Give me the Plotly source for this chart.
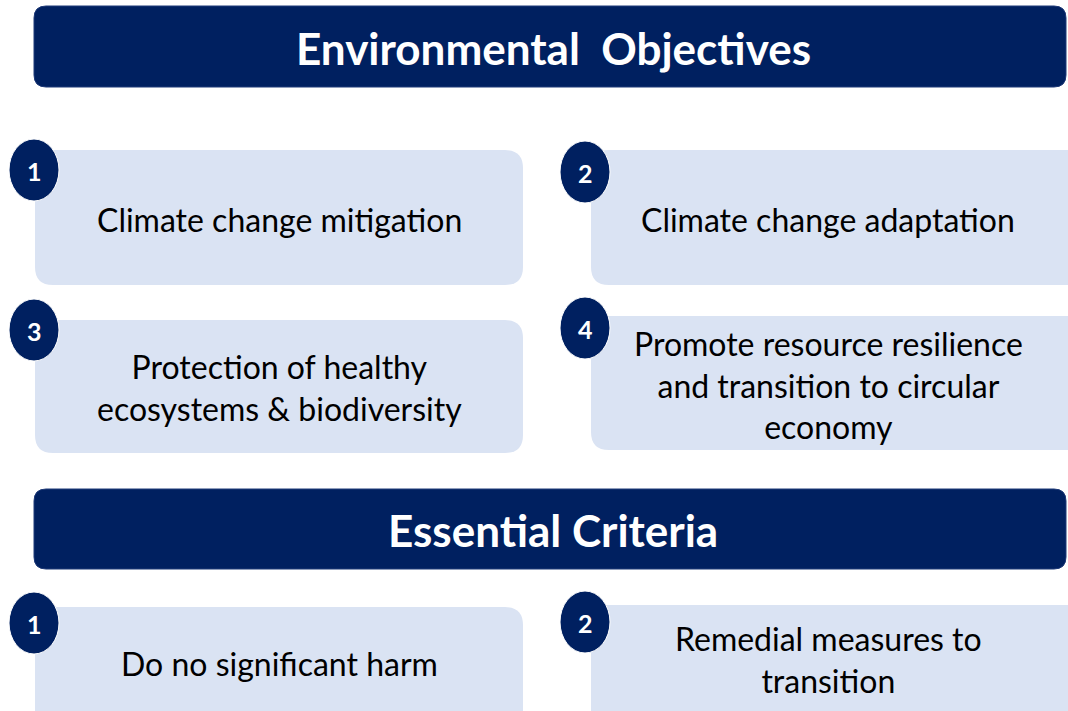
import plotly.graph_objects as go

headers = ["Environmental  Objectives", "Essential Criteria"]
objectives = [
    "Climate change mitigation",
    "Climate change adaptation",
    "Protection of healthy<br>ecosystems & biodiversity",
    "Promote resource resilience<br>and transition to circular<br>economy",
]
objective_nums = ["1", "2", "3", "4"]
criteria = ["Do no significant harm", "Remedial measures to<br>transition"]
criteria_nums = ["1", "2"]

NAVY = "#002060"
LIGHT = "#DAE3F3"
FONT = "Lato"


def rounded_rect(x0, y0, x1, y1, r):
    # y axis is reversed, so y0 is top
    return (f"M {x0+r},{y0} L {x1-r},{y0} Q {x1},{y0} {x1},{y0+r} "
            f"L {x1},{y1-r} Q {x1},{y1} {x1-r},{y1} L {x0+r},{y1} "
            f"Q {x0},{y1} {x0},{y1-r} L {x0},{y0+r} Q {x0},{y0} {x0+r},{y0} Z")


fig = go.Figure()
shapes = []
annotations = []

# header bars
header_boxes = [(34, 6, 1066, 87), (34, 489, 1066, 569)]
for text, (x0, y0, x1, y1) in zip(headers, header_boxes):
    shapes.append(dict(type="path", path=rounded_rect(x0, y0, x1, y1, 12),
                       fillcolor=NAVY, line=dict(color="#1f3a78", width=1), layer="below"))
    annotations.append(dict(x=553, y=(y0 + y1) / 2 + 1, text=f"<b>{text}</b>", showarrow=False,
                            font=dict(family=FONT, size=44, color="white")))

# item boxes: (box x0, y0, x1, y1, circle cx, cy)
obj_boxes = [
    (35, 150, 523, 285, 34, 170),
    (591, 150, 1085, 285, 585, 172),
    (35, 320, 523, 453, 34, 330),
    (591, 316, 1085, 450, 585, 328),
]
crit_boxes = [
    (35, 607, 523, 740, 34, 623),
    (591, 605, 1085, 740, 585, 622),
]
text_y_obj = [219, 219, 387, 385]
text_y_crit = [663, 659]

items = list(zip(objectives, objective_nums, obj_boxes, text_y_obj)) + \
    list(zip(criteria, criteria_nums, crit_boxes, text_y_crit))

for text, num, (x0, y0, x1, y1, cx, cy), ty in items:
    shapes.append(dict(type="path", path=rounded_rect(x0, y0, x1, y1, 18),
                       fillcolor=LIGHT, line=dict(width=0), layer="below"))
    tx = 279 if x0 < 500 else 828
    annotations.append(dict(x=tx, y=ty, text=text, showarrow=False,
                            font=dict(family=FONT, size=32, color="black"),
                            align="center"))
    shapes.append(dict(type="circle", x0=cx - 25, x1=cx + 25, y0=cy - 31, y1=cy + 31,
                       fillcolor=NAVY, line=dict(color="white", width=1)))
    annotations.append(dict(x=cx, y=cy + 1, text=f"<b>{num}</b>", showarrow=False,
                            font=dict(family=FONT, size=25, color="white")))

fig.update_layout(
    width=1068, height=711,
    margin=dict(l=0, r=0, t=0, b=0),
    paper_bgcolor="white", plot_bgcolor="white",
    xaxis=dict(range=[0, 1068], visible=False, fixedrange=True),
    yaxis=dict(range=[711, 0], visible=False, fixedrange=True),
    shapes=shapes, annotations=annotations,
    showlegend=False,
)

# drop the default page margin so the figure sits at the window's top-left corner
fig.write_html("out.html", config={"displayModeBar": False},
               post_script="document.body.style.margin='0';document.body.style.overflow='hidden';")
